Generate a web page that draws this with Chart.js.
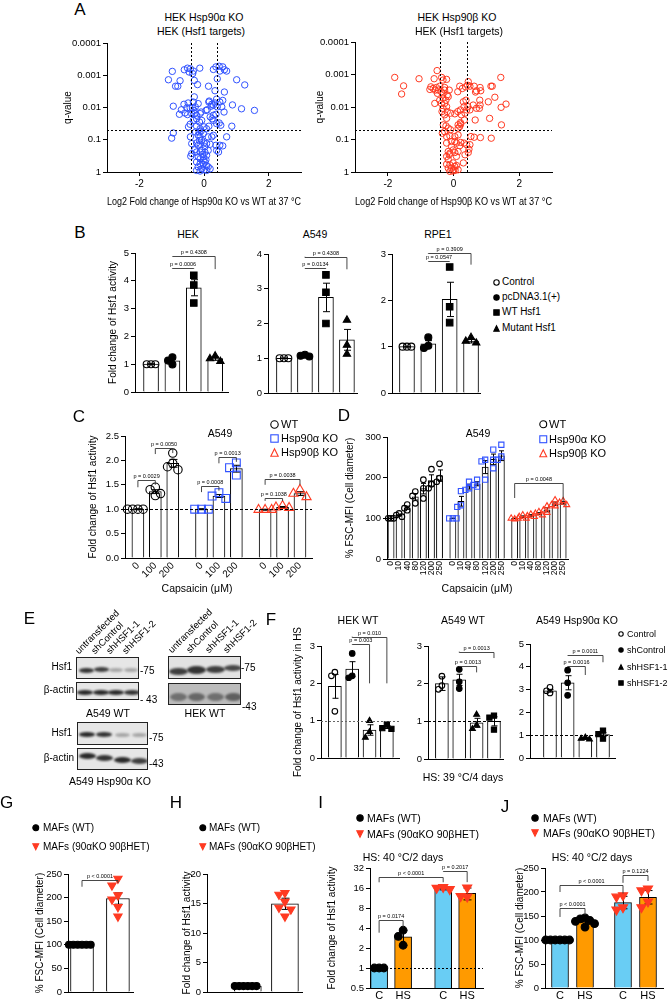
<!DOCTYPE html>
<html lang="en">
<head>
<meta charset="UTF-8">
<title>Hsf1 activity and cell size</title>
<script src="https://cdn.jsdelivr.net/npm/chart.js"></script>
<style>
  html, body { margin: 0; padding: 0; background: #fff; }
  #fig { position: relative; width: 669px; height: 999px; overflow: hidden;
         font-family: "Liberation Sans", Arial, Helvetica, sans-serif; color: #000; }
  #fig canvas { position: absolute; }
  .t { position: absolute; white-space: nowrap; line-height: 1; }
  .lane { position: absolute; white-space: nowrap; line-height: 1; font-size: 9.5px;
          transform-origin: 0 100%; transform: rotate(-45deg); }
  .blot { position: absolute; box-sizing: border-box; border: 1px solid #222; overflow: hidden; }
  .band { position: absolute; border-radius: 50%; filter: blur(1.2px); }
  svg.mk { position: absolute; overflow: visible; }
</style>
</head>
<body>
<div id="fig"></div>
<script>
// ---------- A: volcano plots, points are [log2 fold change, -log10 q] ----------
const volAlpha = [
  [-0.98,3.12],[-0.61,3.17],[-0.51,3.22],[-0.42,3.20],[-0.33,3.13],[-0.46,3.10],[-0.13,3.22],[-0.35,3.05],
  [0.29,3.18],[0.37,3.26],[0.47,3.28],[0.58,3.26],[0.63,3.17],[0.70,3.13],[0.49,3.13],[0.41,2.89],
  [-1.10,2.86],[-0.74,2.83],[-0.30,2.84],[-0.20,2.71],[-0.88,2.66],[-0.81,2.66],[0.14,2.66],[0.34,2.52],
  [0.63,2.48],[1.01,2.86],[1.26,2.70],[-0.30,2.33],[-0.33,2.17],[-0.49,2.14],[-0.62,2.10],[-0.18,2.12],
  [-0.53,1.99],[-0.43,1.99],[-0.36,1.99],[-0.27,2.02],[-0.95,2.04],[-0.70,1.93],[-0.76,1.79],[-0.59,1.83],
  [-0.51,1.78],[-0.38,1.81],[-0.28,1.81],[-0.23,1.76],[-0.12,1.81],[-0.09,1.86],[0.06,1.91],[0.10,1.93],
  [0.15,2.17],[0.16,2.20],[0.22,2.04],[0.24,2.10],[0.29,2.07],[0.34,2.14],[0.39,2.26],[0.41,2.02],
  [0.49,2.17],[0.58,2.22],[0.55,2.02],[0.62,1.86],[0.88,2.08],[1.16,1.96],[1.56,1.91],[0.37,1.79],
  [-0.33,1.60],[-0.23,1.65],[-0.14,1.55],[-0.07,1.60],[0.19,1.71],[0.25,1.65],[0.29,1.60],[0.39,1.50],
  [0.47,1.52],[0.52,1.45],[-0.43,1.48],[-0.48,1.40],[-0.23,1.42],[-0.12,1.34],[0.00,1.40],[0.08,1.34],
  [0.15,1.42],[0.86,1.42],[-0.15,1.24],[-0.09,1.27],[-0.95,1.21],[-1.00,1.05],[-0.42,1.09],[-0.18,1.14],
  [-0.12,1.09],[-0.02,1.19],[0.13,1.09],[0.24,1.09],[0.29,1.14],[0.70,1.09],[-0.38,0.88],[-0.23,0.90],
  [-0.18,0.83],[-0.12,0.86],[0.00,0.90],[0.08,0.88],[0.19,0.86],[0.37,0.83],[0.49,0.83],[0.58,0.81],
  [-0.28,0.69],[-0.23,0.62],[-0.12,0.62],[-0.07,0.67],[0.03,0.61],[0.13,0.67],[0.39,0.67],[0.45,0.62],
  [-0.38,0.57],[-0.41,0.49],[-0.18,0.47],[-0.12,0.41],[-0.02,0.47],[0.08,0.52],[-0.23,0.31],[-0.12,0.26],
  [-0.02,0.24],[0.03,0.31],[0.08,0.19],[-0.18,0.16],[-0.07,0.10],[0.00,0.07],[0.08,0.05],[0.19,0.10],
  [-0.23,0.05],[-0.12,0.03],[0.13,0.16],[-0.02,0.36],[-0.07,0.98],[0.03,0.78],[-0.04,0.55],[0.06,0.38],
  [-0.14,0.98],[-0.26,1.24],[-0.31,1.91],[0.29,1.76]
];
const volBeta = [
  [-1.79,2.91],[-1.05,2.87],[-1.52,2.65],[-1.58,2.40],[-0.50,3.12],[-0.59,2.87],[-0.36,2.91],[-0.21,2.85],
  [-0.32,2.83],[-0.69,2.62],[-0.62,2.57],[-0.52,2.60],[-0.42,2.64],[-0.72,2.54],[-0.56,2.52],[-0.46,2.52],
  [-0.27,2.60],[-0.37,2.47],[-0.27,2.52],[-0.13,2.52],[-0.49,2.42],[-0.32,2.40],[-0.19,2.37],[-0.42,2.21],
  [-0.32,2.27],[-0.23,2.21],[-0.16,2.32],[-0.57,2.11],[-0.37,2.11],[-0.27,2.11],[-0.21,2.01],[-0.32,1.96],
  [-0.35,1.86],[-0.19,1.86],[-0.27,1.76],[-0.21,1.65],[-0.09,1.81],[0.04,1.79],[0.13,1.86],[0.21,1.91],
  [0.35,1.81],[0.40,1.91],[0.44,2.01],[0.50,1.91],[0.30,2.16],[0.38,2.21],[0.45,2.78],[0.43,2.67],
  [0.37,2.62],[0.19,2.64],[0.27,2.57],[0.13,2.47],[0.50,2.64],[0.63,2.64],[0.70,2.50],[0.67,2.46],
  [0.81,2.60],[0.83,2.50],[1.14,2.64],[1.18,2.64],[1.44,2.91],[1.26,2.30],[1.06,2.16],[0.80,2.21],
  [0.60,2.06],[0.70,1.96],[0.81,2.06],[0.79,1.96],[1.45,1.99],[1.60,2.09],[1.10,1.65],[1.46,1.45],
  [0.66,1.60],[0.33,1.60],[0.21,1.52],[0.14,1.45],[0.19,1.40],[0.14,1.35],[0.22,1.48],[-0.31,1.45],
  [-0.23,1.42],[-0.16,1.35],[-0.09,1.30],[-0.34,1.19],[-0.21,1.09],[-0.11,1.11],[0.04,1.09],[0.14,1.14],
  [-0.21,0.89],[-0.06,0.94],[0.04,0.94],[0.09,0.89],[0.19,0.81],[0.22,0.91],[0.32,0.89],[0.40,0.84],
  [0.50,0.84],[-0.16,0.63],[-0.11,0.58],[-0.01,0.68],[-0.21,0.48],[-0.13,0.53],[0.04,0.60],[0.14,0.63],
  [0.35,0.53],[0.45,0.60],[0.47,0.70],[0.53,1.09],[0.63,1.07],[0.82,1.06],[1.15,1.04],[-0.21,0.24],
  [-0.11,0.22],[-0.01,0.28],[0.04,0.17],[-0.06,0.12],[0.01,0.07],[0.09,0.20],[0.30,0.28],[-0.11,0.02],
  [-0.02,0.03],[0.05,0.05],[-0.16,0.12],[0.14,0.07],[-0.27,1.24],[-0.06,0.79],[-0.16,0.38],[0.09,0.48],
  [0.24,1.76],[0.32,2.01]
];
const volXTicks = [-2, 0, 2];
const volQTicks = [0.0001, 0.001, 0.01, 0.1, 1];
const volQLabels = ['0.0001', '0.001', '0.01', '0.1', '1'];
const volFcCut = [-0.4, 0.4];
const volQCut = 0.05;

// ---------- B: Hsf1 reporter, transfections ----------
const bGroups = ['Control', 'pcDNA3.1(+)', 'WT Hsf1', 'Mutant Hsf1'];
const bHekMean = [1.0, 1.12, 3.75, 1.2];
const bHekSem = [0.02, 0.07, 0.29, 0.06];
const bHekPts = [[1, 1, 1], [1.25, 1.13, 0.99], [4.2, 3.85, 3.2], [1.3, 1.2, 1.1]];
const bA549Mean = [1.0, 1.07, 2.75, 1.53];
const bA549Sem = [0.01, 0.02, 0.41, 0.3];
const bA549Pts = [[1, 1, 1], [1.1, 1.07, 1.05], [3.4, 2.9, 2.0], [2.1, 1.38, 1.12]];
const bRpe1Mean = [1.0, 1.06, 2.02, 1.12];
const bRpe1Sem = [0.01, 0.07, 0.37, 0.04];
const bRpe1Pts = [[1, 1, 1], [1.2, 1.02, 0.97], [2.72, 1.86, 1.52], [1.2, 1.12, 1.08]];
const bHekTicks = [0, 1, 2, 3, 4, 5];
const bA549Ticks = [0, 1, 2, 3, 4];
const bRpe1Ticks = [0, 1, 2, 3];
// brackets: [from bar, to bar, line value, left leg end, right leg end, label]
const bHekP = [[1, 2, 4.46, 4.46, 4.46, 'p = 0.0006'], [1, 3, 4.88, 4.88, 4.42, 'p = 0.4308']];
const bA549P = [[1, 2, 3.59, 3.59, 3.59, 'p = 0.0134'], [1, 3, 3.92, 3.92, 3.56, 'p = 0.4308']];
const bRpe1P = [[1, 2, 2.84, 2.84, 2.84, 'p = 0.0547'], [1, 3, 3.02, 3.02, 2.77, 'p = 0.3909']];

// ---------- C: capsaicin, Hsf1 activity ----------
const cLines = ['WT', 'Hsp90α KO', 'Hsp90β KO'];
const cDose = ['0', '100', '200'];
const cMean = [1.0, 1.36, 1.94, 1.0, 1.27, 1.83, 0.99, 1.04, 1.32];
const cSem = [0.01, 0.04, 0.08, 0.01, 0.03, 0.07, 0.01, 0.015, 0.04];
const cPts = [[1, 1, 1, 1], [1.45, 1.4, 1.32, 1.28], [2.15, 1.94, 1.87, 1.81],
              [1, 1, 1], [1.34, 1.27, 1.22], [1.95, 1.85, 1.7],
              [0.99, 0.99, 0.99], [1.07, 1.04, 1.03], [1.4, 1.32, 1.25]];
const cTicks = [0, 0.5, 1.0, 1.5, 2.0, 2.5];
const cP = [[0, 1, 1.59, 1.45, 1.5, 'p = 0.0029'], [1, 2, 2.26, 2.13, 2.15, 'p = 0.0050'],
            [3, 4, 1.48, 1.35, 1.38, 'p = 0.0008'], [4, 5, 2.07, 1.94, 1.97, 'p = 0.0013'],
            [6, 7, 1.23, 1.17, 1.17, 'p = 0.1038'], [6, 8, 1.62, 1.5, 1.5, 'p = 0.0038']];

// ---------- D: capsaicin, cell size ----------
const dDose = ['0', '10', '40', '80', '120', '200', '250'];
const dMean = [100, 108, 126, 153, 173, 193, 205,
               100, 142, 178, 185, 226, 245, 254,
               100, 104, 107, 112, 121, 136, 138];
const dSem = [0.5, 2, 4, 8, 13, 14, 14,
              0.5, 12, 6, 5, 16, 13, 12,
              0.5, 2, 2, 2, 5, 4, 3];
const dPts = [[100, 100, 100], [112, 108, 104], [134, 125, 120], [166, 155, 137], [195, 174, 149], [221, 184, 174], [234, 199, 190],
              [100, 100, 100], [167, 132, 128], [190, 174, 170], [195, 182, 178], [244, 240, 195], [269, 244, 223], [281, 252, 244],
              [98, 100, 100], [108, 104, 100], [110, 106, 104], [116, 112, 108], [130, 120, 114], [145, 133, 130], [143, 139, 133]];
const dTicks = [0, 100, 200, 300];
const dP = [[14, 20, 188, 150, 140, 'p = 0.0048']];

// ---------- F: shRNA knockdown under heat stress ----------
const fGroups = ['Control', 'shControl', 'shHSF1-1', 'shHSF1-2'];
const fHekMean = [1.92, 2.38, 0.75, 0.83];
const fHekSem = [0.32, 0.2, 0.14, 0.04];
const fHekPts = [[2.3, 2.2, 1.25], [2.8, 2.2, 2.15], [1.0, 0.7, 0.55], [0.9, 0.8, 0.78]];
const fA549Mean = [2.0, 2.1, 0.96, 1.0];
const fA549Sem = [0.18, 0.15, 0.12, 0.12];
const fA549Pts = [[2.2, 1.95, 1.85], [2.38, 2.05, 1.87], [1.18, 0.9, 0.8], [1.15, 1.1, 0.78]];
const fKoMean = [2.95, 3.3, 0.85, 1.03];
const fKoSem = [0.06, 0.31, 0.03, 0.08];
const fKoPts = [[3.1, 2.95, 2.85], [3.85, 3.3, 2.75], [0.9, 0.85, 0.82], [1.2, 1.05, 0.85]];
const fTicks3 = [0, 1, 2, 3];
const fTicks5 = [0, 1, 2, 3, 4, 5];
const fHekP = [[1, 3, 3.25, 3.25, 2.0, 'p = 0.010'], [1, 2, 3.05, 3.05, 2.0, 'p = 0.003']];
const fA549P = [[1, 2, 2.47, 2.47, 2.3, 'p = 0.0013'], [1, 3, 2.85, 2.85, 2.68, 'p = 0.0013']];
const fKoP = [[1, 2, 4.03, 4.03, 3.64, 'p = 0.0016'], [1, 3, 4.5, 4.5, 4.2, 'p = 0.0011']];

// ---------- G-J: MAFs ----------
const mafGroups = ['MAFs (WT)', 'MAFs (90αKO 90βHET)'];
const gMean = [100, 198];
const gSem = [0, 12];
const gPts = [[100, 100, 100, 100, 100, 100], [240, 226, 205, 196, 180, 160]];
const gTicks = [0, 50, 100, 150, 200, 250];
const gP = [[0, 1, 237, 223, 231, 'p < 0.0001']];
const hMean = [1.0, 14.95];
const hSem = [0, 0.95];
const hPts = [[1, 1, 1, 1, 1, 1], [16.8, 16.5, 15.3, 14.3, 14.0, 12.8]];
const hTicks = [0, 5, 10, 15, 20];
const ijLabels = ['C', 'HS', 'C', 'HS'];
const iMean = [1.0, 2.95, 15.9, 13.3];
const iErr = [0, 0.75, 0.9, 2.7];
const iPts = [[1, 1, 1], [3.7, 3.0, 2.2], [16.5, 16.0, 15.3], [16.2, 12.0, 11.8]];
const iTicks = [0.5, 1, 2, 4, 8, 16, 32];
const iP = [[0, 1, 5.3, 3.4, 4.1, 'p = 0.0174'], [0, 2, 23.4, 19.5, 19.5, 'p < 0.0001'], [2, 3, 28.5, 28.5, 19.6, 'p = 0.2017']];
const jMean = [100, 138, 178, 189];
const jErr = [0, 6, 13, 14];
const jPts = [[100, 100, 100, 100, 100, 100], [146, 144, 141, 139, 134, 127], [193, 190, 168, 163], [207, 203, 180, 168]];
const jTicks = [0, 50, 100, 150, 200, 250];
const jP = [[0, 1, 166, 148, 152, 'p < 0.0001'], [0, 2, 214, 200, 197, 'p < 0.0001'], [2, 3, 235, 219, 223, 'p = 0.1224']];

// ---------- styles / layout ----------
const BLUE = '#3052ff', RED = '#ff3a22', SKY = '#69cdf4', ORANGE = '#ff9a00';
const MK = {
  oc:  {style: 'circle',   fill: false, color: '#000', r: 3.5},
  fc:  {style: 'circle',   fill: true,  color: '#000', r: 3.5},
  fs:  {style: 'rect',     fill: true,  color: '#000', r: 4.6},
  ft:  {style: 'triangle', fill: true,  color: '#000', r: 4.2},
  osB: {style: 'rect',     fill: false, color: BLUE,   r: 4.6},
  otR: {style: 'triangle', fill: false, color: RED,    r: 4.4},
  tdR: {style: 'triangle', fill: true,  color: RED,    r: 4.8, rot: 180}
};
const bSlots = [0, 1, 2, 3];
const bMarks = ['oc', 'fc', 'fs', 'ft'];
const cSlots = [0, 1, 2, 3.65, 4.65, 5.65, 7.3, 8.3, 9.3];
const cMarks = ['oc', 'oc', 'oc', 'osB', 'osB', 'osB', 'otR', 'otR', 'otR'];
const dSlots = [0, 1, 2, 3, 4, 5, 6, 7.65, 8.65, 9.65, 10.65, 11.65, 12.65, 13.65,
                15.3, 16.3, 17.3, 18.3, 19.3, 20.3, 21.3];
const dMarks = [].concat(Array(7).fill('oc'), Array(7).fill('osB'), Array(7).fill('otR'));
const fMarks = ['oc', 'fc', 'ft', 'fs'];
const ghSlots = [0, 1];
const ghMarks = ['fc', 'tdR'];
const ijSlots = [0, 1, 2.67, 3.67];
const jSlots = [0, 1, 2.52, 3.52];
const ijMarks = ['fc', 'fc', 'tdR', 'tdR'];
const ijFill = [SKY, ORANGE, SKY, ORANGE];

Chart.defaults.font.family = '"Liberation Sans", Arial, Helvetica, sans-serif';
Chart.defaults.font.size = 10;
Chart.defaults.color = '#000';

const fig = document.getElementById('fig');
const NS = 'http://www.w3.org/2000/svg';

function txt(s, x, y, fs, align) {
  const d = document.createElement('div');
  d.className = 't';
  d.textContent = s;
  d.style.left = x + 'px';
  d.style.top = y + 'px';
  d.style.fontSize = fs + 'px';
  const tx = align === 'l' ? '0' : align === 'r' ? '-100%' : '-50%';
  d.style.transform = `translate(${tx}, -50%)`;
  fig.appendChild(d);
}

function mark(kind, x, y, s) {
  const k = MK[kind], h = s / 2, p = 0.8;
  const svg = document.createElementNS(NS, 'svg');
  svg.setAttribute('width', s);
  svg.setAttribute('height', s);
  svg.setAttribute('class', 'mk');
  svg.style.left = (x - h) + 'px';
  svg.style.top = (y - h) + 'px';
  let el;
  if (k.style === 'circle') {
    el = document.createElementNS(NS, 'circle');
    el.setAttribute('cx', h); el.setAttribute('cy', h); el.setAttribute('r', h - p);
  } else if (k.style === 'rect') {
    el = document.createElementNS(NS, 'rect');
    el.setAttribute('x', p); el.setAttribute('y', p);
    el.setAttribute('width', s - 2 * p); el.setAttribute('height', s - 2 * p);
  } else {
    el = document.createElementNS(NS, 'polygon');
    el.setAttribute('points', k.rot ? `${p},${p} ${s - p},${p} ${h},${s - p}`
                                    : `${h},${p} ${s - p},${s - p} ${p},${s - p}`);
  }
  el.setAttribute('fill', k.fill ? k.color : 'none');
  el.setAttribute('stroke', k.color);
  el.setAttribute('stroke-width', 1.1);
  svg.appendChild(el);
  fig.appendChild(svg);
}

function legend(names, marks, mx, tx, ys, fs, ms) {
  names.forEach((n, i) => { mark(marks[i], mx, ys[i], ms); txt(n, tx, ys[i], fs, 'l'); });
}

function lane(s, x, y) {
  const d = document.createElement('div');
  d.className = 'lane';
  d.textContent = s;
  d.style.left = x + 'px';
  d.style.top = (y - 9.5) + 'px';
  fig.appendChild(d);
}

function blot(x, y, w, h, bg, bands) {
  const d = document.createElement('div');
  d.className = 'blot';
  Object.assign(d.style, {left: x + 'px', top: y + 'px', width: w + 'px', height: h + 'px', background: bg});
  bands.forEach(([cx, cy, bw, bh, a]) => {
    const b = document.createElement('div');
    b.className = 'band';
    Object.assign(b.style, {left: (cx - bw / 2) + 'px', top: (cy - bh / 2) + 'px',
      width: bw + 'px', height: bh + 'px', background: `rgba(20,20,20,${a})`});
    d.appendChild(b);
  });
  fig.appendChild(d);
}

// canvas placed so the plot area lands on box = [left, top, right, bottom]
function mkCanvas(box, m) {
  const c = document.createElement('canvas');
  const w = box[2] - box[0] + m.l + m.r, h = box[3] - box[1] + m.t + m.b;
  c.width = w; c.height = h;
  c.style.left = (box[0] - m.l) + 'px';
  c.style.top = (box[1] - m.t) + 'px';
  c.style.width = w + 'px';
  c.style.height = h + 'px';
  fig.appendChild(c);
  return c;
}

function xAxis(o) {
  return {
    type: 'linear', position: 'bottom', bounds: 'data', offset: false,
    min: o.min, max: o.max,
    border: {display: true, color: '#000', width: 1},
    grid: {display: !!o.marks, drawOnChartArea: false, drawTicks: !!o.marks,
           tickLength: o.marks ? 4 : 0, color: '#000', offset: false},
    ticks: {display: !!o.labels, color: '#000', padding: o.pad ?? 2, autoSkip: false,
            maxRotation: o.rot || 0, minRotation: o.rot || 0, font: {size: o.fs || 9.5},
            callback: (v, i) => (o.labels ? o.labels[i] : '')},
    afterBuildTicks: s => { s.ticks = o.ticks.map(v => ({value: v})); },
    title: {display: !!o.title, text: o.title || '', color: '#000', font: {size: 10}, padding: 0},
    afterFit: s => { s.height = o.h; s.paddingLeft = 0; s.paddingRight = 0; }
  };
}

function yAxis(o) {
  return {
    type: o.log ? 'logarithmic' : 'linear', position: 'left', bounds: 'data',
    min: o.min, max: o.max, reverse: !!o.reverse,
    border: {display: true, color: '#000', width: 1},
    grid: {display: true, drawOnChartArea: false, drawTicks: true, tickLength: 4, color: '#000'},
    ticks: {display: true, color: '#000', padding: 2, autoSkip: false, font: {size: o.fs || 9.5},
            callback: (v, i) => (o.labels ? o.labels[i] : String(o.ticks[i]))},
    afterBuildTicks: s => { s.ticks = o.ticks.map(v => ({value: v})); },
    title: {display: !!o.title, text: o.title || '', color: '#000', font: {size: 10}, padding: 0},
    afterFit: s => { s.width = o.w; s.paddingTop = 0; s.paddingBottom = 0; }
  };
}

// error bars, reference lines and significance brackets
function extras(ex) {
  const line = (ctx, pts) => {
    ctx.beginPath();
    ctx.moveTo(pts[0][0], pts[0][1]);
    for (let i = 1; i < pts.length; i++) ctx.lineTo(pts[i][0], pts[i][1]);
    ctx.stroke();
  };
  return {
    id: 'extras',
    afterDatasetDraw(chart, args) {
      if (args.index !== 0 || !ex.err) return;
      const {ctx} = chart, xs = chart.scales.x, ys = chart.scales.y, e = ex.err;
      ctx.save();
      ctx.strokeStyle = '#000';
      ctx.lineWidth = 1;
      e.sem.forEach((s, i) => {
        if (!s) return;
        const px = Math.round(xs.getPixelForValue(e.slots[i])) + 0.5;
        const t = ys.getPixelForValue(e.mean[i] + s);
        const b = ys.getPixelForValue(Math.max(e.mean[i] - s, ys.min));
        line(ctx, [[px, t], [px, b]]);
        line(ctx, [[px - e.cap, t], [px + e.cap, t]]);
        line(ctx, [[px - e.cap, b], [px + e.cap, b]]);
      });
      ctx.restore();
    },
    afterDatasetsDraw(chart) {
      const {ctx, chartArea: a} = chart, xs = chart.scales.x, ys = chart.scales.y;
      ctx.save();
      (ex.hl || []).forEach(h => {
        ctx.strokeStyle = h.color || '#000';
        ctx.lineWidth = 1;
        ctx.setLineDash(h.dash || [2, 2]);
        const py = Math.round(ys.getPixelForValue(h.v)) + 0.5;
        line(ctx, [[a.left, py], [a.right, py]]);
      });
      (ex.vl || []).forEach(v => {
        ctx.strokeStyle = '#000';
        ctx.lineWidth = 1;
        ctx.setLineDash([2, 2]);
        const px = Math.round(xs.getPixelForValue(v)) + 0.5;
        line(ctx, [[px, a.top], [px, a.bottom]]);
      });
      ctx.setLineDash([]);
      (ex.br || []).forEach(([i, j, yv, yl, yr, label]) => {
        const x1 = xs.getPixelForValue(ex.slots[i]), x2 = xs.getPixelForValue(ex.slots[j]);
        const py = Math.round(ys.getPixelForValue(yv)) + 0.5;
        ctx.strokeStyle = '#333';
        ctx.lineWidth = 0.9;
        line(ctx, [[x1, ys.getPixelForValue(yl)], [x1, py], [x2, py], [x2, ys.getPixelForValue(yr)]]);
        ctx.fillStyle = '#000';
        ctx.font = '5.5px "Liberation Sans", Arial, sans-serif';
        ctx.textAlign = 'center';
        ctx.textBaseline = 'bottom';
        ctx.fillText(label, (x1 + x2) / 2, py - 1.5);
      });
      ctx.restore();
    }
  };
}

// spread replicate points sideways when they would overlap
function swarm(vals, slot, dx, thr, lg) {
  const placed = [];
  return vals.map(v => {
    const yv = lg(v);
    for (let k = 0; k < 30; k++) {
      const step = k === 0 ? 0 : (k % 2 ? -(k + 1) / 2 : k / 2);
      const off = step * dx;
      const clash = placed.some(p => Math.abs(p.off - off) < dx * 0.99 && Math.abs(p.yv - yv) < thr);
      if (!clash) { placed.push({off, yv}); return {x: slot + off, y: v}; }
    }
    return {x: slot, y: v};
  });
}

const baseOpts = m => ({
  responsive: false, animation: false,
  layout: {autoPadding: false, padding: {top: m.t, right: m.r, left: 0, bottom: 0}},
  plugins: {legend: {display: false}, tooltip: {enabled: false}}
});

function barPanel(P) {
  const c = mkCanvas(P.box, P.m);
  const lg = v => (P.y.log ? Math.log10(v) : v);
  const pxX = (P.box[2] - P.box[0]) / (P.xmax - P.xmin);
  const pxY = (P.box[3] - P.box[1]) / (lg(P.y.max) - lg(P.y.min));
  const ms = P.ms || 1;
  const datasets = [{
    type: 'bar', order: 2,
    data: P.slots.map((x, i) => ({x, y: P.mean[i]})),
    backgroundColor: P.fill || '#fff', borderColor: '#000', borderWidth: 1,
    borderSkipped: 'start', barThickness: P.bw
  }];
  P.pts.forEach((vals, i) => {
    const k = MK[P.mk[i]], r = k.r * ms, d = 2 * r;
    datasets.push({
      type: 'scatter', order: 1, clip: false, showLine: false,
      data: swarm(vals, P.slots[i], d * (P.spread || 0.62) / pxX, d * 0.85 / pxY, lg),
      pointStyle: k.style, pointRadius: r, pointHoverRadius: r, pointRotation: k.rot || 0,
      pointBorderColor: k.color, pointBackgroundColor: k.fill ? k.color : 'rgba(0,0,0,0)',
      pointBorderWidth: 1.1
    });
  });
  const opts = baseOpts(P.m);
  opts.scales = {
    x: xAxis({min: P.xmin, max: P.xmax, ticks: P.slots, labels: P.xlabels, rot: P.xrot,
              fs: P.xfs, pad: P.xpad, h: P.m.b}),
    y: yAxis(Object.assign({w: P.m.l}, P.y))
  };
  new Chart(c, {
    type: 'bar', data: {datasets}, options: opts,
    plugins: [extras({slots: P.slots, br: P.br, hl: P.hl,
                      err: {slots: P.slots, mean: P.mean, sem: P.sem, cap: P.cap || 3}})]
  });
}

function volcano(P) {
  const c = mkCanvas(P.box, P.m);
  const opts = baseOpts(P.m);
  opts.scales = {
    x: xAxis({min: -3, max: 3, ticks: volXTicks, labels: volXTicks.map(String), marks: true,
              fs: 10, h: P.m.b, title: P.xTitle}),
    y: yAxis({log: true, reverse: true, min: 1e-4, max: 1, ticks: volQTicks, labels: volQLabels,
              w: P.m.l, title: 'q-value'})
  };
  new Chart(c, {
    type: 'scatter',
    data: {datasets: [{
      data: P.pts.map(p => ({x: p[0], y: Math.pow(10, -p[1])})),
      clip: false, pointStyle: 'circle', pointRadius: 3.2, pointBorderWidth: 1,
      pointBorderColor: P.color, pointBackgroundColor: 'rgba(0,0,0,0)'
    }]},
    options: opts,
    plugins: [extras({vl: volFcCut, hl: [{v: volQCut, dash: [2, 2]}]})]
  });
}

// ---------- A ----------
volcano({box: [107, 43, 301, 172], m: {l: 45, t: 6, r: 4, b: 36}, pts: volAlpha, color: BLUE,
         xTitle: 'Log2 Fold change of Hsp90α KO vs WT at 37 °C'});
volcano({box: [355, 42, 552, 172], m: {l: 41, t: 6, r: 4, b: 36}, pts: volBeta, color: RED,
         xTitle: 'Log2 Fold change of Hsp90β KO vs WT at 37 °C'});
txt('HEK Hsp90α KO', 204, 17, 10.5);
txt('HEK (Hsf1 targets)', 201, 31, 10.5);
txt('HEK Hsp90β KO', 457, 17, 10.5);
txt('HEK (Hsf1 targets)', 459, 31, 10.5);

// ---------- B ----------
barPanel({box: [135, 253, 228, 392], m: {l: 28, t: 8, r: 4, b: 4}, xmin: -0.75, xmax: 3.6,
  slots: bSlots, bw: 15, cap: 3.5, mean: bHekMean, sem: bHekSem, pts: bHekPts, mk: bMarks,
  y: {min: 0, max: 5, ticks: bHekTicks, title: 'Fold change of Hsf1 activity'}, br: bHekP});
barPanel({box: [268, 254, 357, 393], m: {l: 20, t: 8, r: 4, b: 4}, xmin: -0.76, xmax: 3.48,
  slots: bSlots, bw: 15, cap: 3.5, mean: bA549Mean, sem: bA549Sem, pts: bA549Pts, mk: bMarks,
  y: {min: 0, max: 4, ticks: bA549Ticks}, br: bA549P});
barPanel({box: [392, 254, 480, 393], m: {l: 20, t: 8, r: 4, b: 4}, xmin: -0.7, xmax: 3.42,
  slots: bSlots, bw: 15, cap: 3.5, mean: bRpe1Mean, sem: bRpe1Sem, pts: bRpe1Pts, mk: bMarks,
  y: {min: 0, max: 3, ticks: bRpe1Ticks}, br: bRpe1P});
txt('HEK', 188, 234, 10.5);
txt('A549', 315, 234, 10.5);
txt('RPE1', 438, 234, 10.5);
legend(bGroups, bMarks, 496, 502, [282, 297, 312, 328], 10, 7);

// ---------- C ----------
barPanel({box: [125, 436, 312, 558], m: {l: 38, t: 8, r: 4, b: 26}, xmin: -0.74, xmax: 9.99,
  slots: cSlots, bw: 12, cap: 4, ms: 1.2, mean: cMean, sem: cSem, pts: cPts, mk: cMarks,
  xlabels: [].concat(cDose, cDose, cDose), xrot: 45, xfs: 10, xpad: 2,
  y: {min: 0, max: 2.5, ticks: cTicks, labels: cTicks.map(v => v.toFixed(1)), title: 'Fold change of Hsf1 activity'},
  br: cP, hl: [{v: 1, dash: [3, 2]}]});
txt('A549', 220, 433, 10.5);
txt('Capsaicin (μM)', 197, 588, 10.5);
legend(cLines, ['oc', 'osB', 'otR'], 274, 281, [424, 438, 452], 11, 9);

// ---------- D ----------
barPanel({box: [387, 437, 568, 559], m: {l: 43, t: 8, r: 4, b: 24}, xmin: -0.5, xmax: 21.9,
  slots: dSlots, bw: 6.2, cap: 2.5, ms: 0.8, spread: 0.5, mean: dMean, sem: dSem, pts: dPts, mk: dMarks,
  xlabels: [].concat(dDose, dDose, dDose), xrot: 90, xfs: 8.5, xpad: 2,
  y: {min: 0, max: 300, ticks: dTicks, title: '% FSC-MFI (Cell diameter)'}, br: dP});
txt('A549', 478, 433, 10.5);
txt('Capsaicin (μM)', 477, 588, 10.5);
legend(cLines, ['oc', 'osB', 'otR'], 543, 549, [424, 439, 453], 11, 8.5);

// ---------- E: western blots ----------
['untransfected', 'shControl', 'shHSF1-1', 'shHSF1-2'].forEach((s, i) => {
  lane(s, 80 + i * 15.7, 655);
  lane(s, 173 + i * 18.3, 654);
});
blot(76, 657, 63, 22, '#e6e6e6', [[9, 12, 15, 5, 0.85], [24, 11, 15, 5, 0.8], [39, 12, 14, 4, 0.3], [54, 12, 14, 4, 0.3]]);
blot(76, 682, 63, 18, '#e6e6e6', [[8, 9, 16, 5, 0.9], [24, 9, 16, 5, 0.9], [39, 9, 16, 5, 0.9], [55, 9, 16, 5, 0.85]]);
blot(168, 656, 73, 23, '#e2e2e2', [[9, 14, 19, 7, 0.8], [27, 13, 19, 8, 0.85], [46, 12, 19, 7, 0.8], [64, 11, 18, 6, 0.75]]);
blot(168, 683, 73, 22, '#bbbbbb', [[9, 13, 17, 8, 0.45], [27, 13, 17, 8, 0.5], [46, 13, 17, 8, 0.45], [64, 13, 17, 8, 0.55]]);
blot(77, 722, 71, 23, '#e6e6e6', [[9, 11, 16, 5, 0.9], [26, 11, 16, 5, 0.85], [44, 12, 15, 4, 0.3], [61, 12, 15, 4, 0.3]]);
blot(77, 748, 71, 22, '#e6e6e6', [[9, 7, 17, 6, 0.9], [26, 9, 17, 6, 0.85], [44, 11, 17, 6, 0.9], [61, 12, 17, 6, 0.8]]);
txt('Hsf1', 72, 667, 10, 'r');
txt('β-actin', 74, 690, 10, 'r');
txt('-75', 140, 671, 10, 'l');
txt('- 43', 140, 700, 10, 'l');
txt('A549 WT', 108, 713, 10.5);
txt('-75', 241, 668, 10, 'l');
txt('-43', 242, 707, 10, 'l');
txt('HEK WT', 205, 713, 10.5);
txt('Hsf1', 72, 733, 10, 'r');
txt('β-actin', 74, 758, 10, 'r');
txt('-75', 149, 738, 10, 'l');
txt('-43', 149, 764, 10, 'l');
txt('A549 Hsp90α KO', 110, 781, 10.5);

// ---------- F ----------
barPanel({box: [321, 646, 399, 758], m: {l: 29, t: 30, r: 4, b: 30}, xmin: -0.8, xmax: 3.7,
  slots: bSlots, bw: 13, cap: 3, ms: 0.8, mean: fHekMean, sem: fHekSem, pts: fHekPts, mk: fMarks,
  y: {min: 0, max: 3, ticks: fTicks3, title: 'Fold change of Hsf1 activity in HS'},
  br: fHekP, hl: [{v: 1, dash: [2, 2], color: '#666'}]});
barPanel({box: [428, 646, 503, 759], m: {l: 20, t: 8, r: 4, b: 4}, xmin: -0.8, xmax: 3.52,
  slots: bSlots, bw: 13, cap: 3, ms: 0.8, mean: fA549Mean, sem: fA549Sem, pts: fA549Pts, mk: fMarks,
  y: {min: 0, max: 3, ticks: fTicks3}, br: fA549P, hl: [{v: 1, dash: [3, 2]}]});
barPanel({box: [530, 644, 615, 758], m: {l: 20, t: 8, r: 4, b: 4}, xmin: -1.13, xmax: 3.68,
  slots: bSlots, bw: 13, cap: 3, ms: 0.8, mean: fKoMean, sem: fKoSem, pts: fKoPts, mk: fMarks,
  y: {min: 0, max: 5, ticks: fTicks5}, br: fKoP, hl: [{v: 1, dash: [3, 2]}]});
txt('HEK WT', 358, 620, 10.5);
txt('A549 WT', 463, 620, 10.5);
txt('A549 Hsp90α KO', 577, 620, 10.5);
txt('HS: 39 °C/4 days', 463, 777, 10.5);
legend(fGroups, fMarks, 621, 627, [634, 650, 667, 683], 9, 6);

// ---------- G, H ----------
barPanel({box: [68, 874, 133, 992], m: {l: 34, t: 34, r: 4, b: 7}, xmin: -0.39, xmax: 1.42,
  slots: ghSlots, bw: 23, cap: 4, mean: gMean, sem: gSem, pts: gPts, mk: ghMarks,
  y: {min: 0, max: 250, ticks: gTicks, title: '% FSC-MFI (Cell diameter)'}, br: gP});
legend(mafGroups, ghMarks, 36, 43, [828, 847], 10, 7.5);
barPanel({box: [207, 874, 302, 992], m: {l: 26, t: 34, r: 4, b: 7}, xmin: -1.1, xmax: 1.46,
  slots: ghSlots, bw: 27, cap: 4, mean: hMean, sem: hSem, pts: hPts, mk: ghMarks,
  y: {min: 0, max: 20, ticks: hTicks, title: 'Fold change of Hsf1 activity'}});
legend(mafGroups, ghMarks, 203, 209, [828, 847], 10, 7.5);

// ---------- I, J ----------
barPanel({box: [370, 868, 483, 988], m: {l: 44, t: 30, r: 4, b: 11}, xmin: -0.38, xmax: 4.33,
  slots: ijSlots, bw: 17, cap: 4, ms: 1.1, fill: ijFill, mean: iMean, sem: iErr, pts: iPts, mk: ijMarks,
  xlabels: ijLabels, xfs: 11, xpad: 1,
  y: {log: true, min: 0.5, max: 32, ticks: iTicks, labels: iTicks.map(String), title: 'Fold change of Hsf1 activity'},
  br: iP, hl: [{v: 1, dash: [2, 2]}]});
txt('HS: 40 °C/2 days', 403, 857, 10.5);
legend(mafGroups, ghMarks, 360, 367, [818, 834], 10.5, 8);
barPanel({box: [545, 868, 663, 988], m: {l: 31, t: 30, r: 4, b: 11}, xmin: -0.6, xmax: 4.12,
  slots: jSlots, bw: 17, cap: 4, ms: 1.1, fill: ijFill, mean: jMean, sem: jErr, pts: jPts, mk: ijMarks,
  xlabels: ijLabels, xfs: 11, xpad: 1,
  y: {min: 0, max: 250, ticks: jTicks, title: '% FSC-MFI (Cell diameter)'}, br: jP});
txt('HS: 40 °C/2 days', 592, 857, 10.5);
legend(mafGroups, ghMarks, 535, 543, [818, 833], 10.5, 8);

// ---------- panel letters ----------
[['A', 80, 8.5], ['B', 80, 232], ['C', 79, 415.5], ['D', 344, 414.5], ['E', 29.5, 618],
 ['F', 271, 618.5], ['G', 6.5, 801.5], ['H', 176, 802], ['I', 320.5, 802], ['J', 505, 806]]
  .forEach(([s, x, y]) => txt(s, x, y, 17));
</script>
</body>
</html>
